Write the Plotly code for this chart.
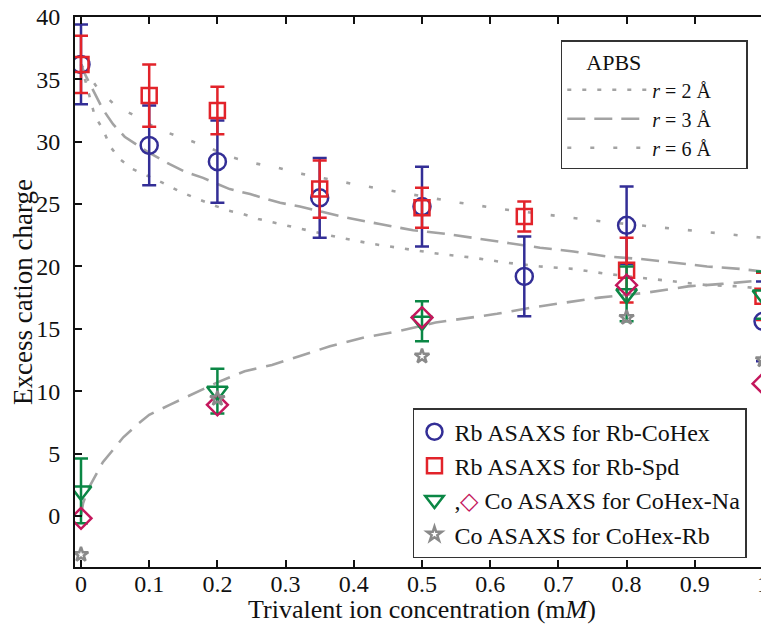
import plotly.graph_objects as go

# ---------------- data ----------------
x_rb = [0, 0.1, 0.2, 0.35, 0.5, 0.65, 0.8, 1.0]
y_rb_cohex = [36.2, 29.7, 28.4, 25.5, 24.8, 19.2, 23.3, 15.6]
err_rb_cohex = [3.2, 3.2, 3.3, 3.2, 3.2, 3.2, 3.1, 3.2]
y_rb_spd = [36.2, 33.7, 32.5, 26.2, 24.7, 24.0, 19.7, 17.6]
err_rb_spd = [2.3, 2.5, 1.9, 2.3, 1.6, 1.2, 2.6, 1.9]

x_co = [0, 0.2, 0.5, 0.8, 1.0]
y_co_na_tri = [2.0, 10.0, 15.6, 17.8, 17.7]
err_co_na_tri = [2.6, 1.8, 1.6, 2.2, 1.9]
y_co_na_dia = [-0.2, 8.9, 15.9, 18.5, 10.6]
y_co_rb = [-3.1, 9.4, 12.8, 15.9, 12.5]

# APBS curves
x_r6 = [0, 0.023, 0.05, 0.082, 0.113, 0.15, 0.185, 0.218, 0.252, 0.289, 0.326,
        0.4, 0.472, 0.544, 0.617, 0.69, 0.764, 0.837, 0.91, 1.0]
y_r6 = [36.2, 34.4, 32.9, 32.0, 31.0, 30.3, 29.6, 28.8, 28.3, 27.9, 27.4,
        26.6, 25.9, 25.2, 24.6, 24.1, 23.6, 23.2, 22.8, 22.3]
x_r3 = [0, 0.006, 0.032, 0.047, 0.064, 0.097, 0.13, 0.152, 0.179, 0.218, 0.248,
        0.292, 0.321, 0.39, 0.438, 0.487, 0.537, 0.585, 0.633, 0.673, 0.722,
        0.771, 0.82, 0.868, 0.918, 0.966, 1.0]
y_r3 = [36.2, 35.4, 32.6, 31.4, 30.4, 29.2, 28.2, 27.6, 27.1, 26.2, 25.8,
        25.1, 24.8, 23.9, 23.4, 22.9, 22.6, 22.2, 21.8, 21.5, 21.2,
        20.8, 20.6, 20.3, 20.0, 19.8, 19.6]
x_r2 = [0, 0.013, 0.02, 0.032, 0.043, 0.057, 0.076, 0.12, 0.145, 0.167, 0.214,
        0.238, 0.26, 0.284, 0.309, 0.38, 0.428, 0.478, 0.526, 0.575, 0.624,
        0.673, 0.722, 0.771, 0.82, 0.868, 0.918, 0.966, 1.0]
y_r2 = [36.2, 33.6, 32.1, 31.0, 29.6, 28.6, 27.8, 26.7, 26.0, 25.5, 24.5,
        24.2, 23.8, 23.5, 23.2, 22.3, 21.8, 21.4, 21.0, 20.7, 20.3,
        20.0, 19.8, 19.4, 19.1, 18.8, 18.5, 18.4, 18.2]
x_rise = [0, 0.003, 0.01, 0.032, 0.047, 0.062, 0.082, 0.1, 0.13, 0.17, 0.2,
          0.24, 0.28, 0.32, 0.365, 0.415, 0.465, 0.52, 0.56, 0.61, 0.66,
          0.71, 0.76, 0.83, 0.89, 0.94, 1.0]
y_rise = [0.0, 1.0, 2.1, 4.3, 5.3, 6.3, 7.3, 8.1, 8.9, 9.9, 10.7,
          11.6, 12.1, 12.8, 13.6, 14.3, 14.8, 15.5, 15.8, 16.2, 16.7,
          17.1, 17.5, 17.9, 18.4, 18.6, 18.9]

x_ticks = [0, 0.1, 0.2, 0.3, 0.4, 0.5, 0.6, 0.7, 0.8, 0.9, 1.0]
x_ticktext = ["0", "0.1", "0.2", "0.3", "0.4", "0.5", "0.6", "0.7", "0.8", "0.9", "1"]
y_ticks = [0, 5, 10, 15, 20, 25, 30, 35, 40]

# ---------------- style ----------------
FONT = "Liberation Serif"
GREY = "#A3A3A3"
BLUE = "#332E96"
RED = "#E2232A"
GREEN = "#0B8745"
CRIMSON = "#C4175C"
STARG = "#8A8A8A"
FS = 24
PAD = "&nbsp;" * 6

fig = go.Figure()

fig.add_trace(go.Scatter(x=x_r2, y=y_r2, mode="lines", name="<i>r</i> = 2 Å" + PAD,
                         line=dict(color=GREY, width=2.6, dash="4px,11px"),
                         legend="legend"))
fig.add_trace(go.Scatter(x=x_r3, y=y_r3, mode="lines", name="<i>r</i> = 3 Å" + PAD,
                         line=dict(color=GREY, width=2.6, dash="18px,9px"),
                         legend="legend"))
fig.add_trace(go.Scatter(x=x_r6, y=y_r6, mode="lines", name="<i>r</i> = 6 Å" + PAD,
                         line=dict(color=GREY, width=2.6, dash="4px,19px"),
                         legend="legend"))
fig.add_trace(go.Scatter(x=x_rise, y=y_rise, mode="lines", showlegend=False,
                         line=dict(color=GREY, width=2.6, dash="18px,10px")))

fig.add_trace(go.Scatter(
    x=x_rb, y=y_rb_cohex, mode="markers", name="Rb ASAXS for Rb-CoHex",
    marker=dict(symbol="circle-open", size=17, color=BLUE, line=dict(width=2.5, color=BLUE)),
    error_y=dict(type="data", array=err_rb_cohex, color=BLUE, thickness=2.5, width=7),
    legend="legend2"))
fig.add_trace(go.Scatter(
    x=x_rb, y=y_rb_spd, mode="markers", name="Rb ASAXS for Rb-Spd",
    marker=dict(symbol="square-open", size=15, color=RED, line=dict(width=2.5, color=RED)),
    error_y=dict(type="data", array=err_rb_spd, color=RED, thickness=2.5, width=7),
    legend="legend2"))
fig.add_trace(go.Scatter(
    x=x_co, y=y_co_na_tri, mode="markers",
    name=",<span style='color:%s'>◇</span> Co ASAXS for CoHex-Na" % CRIMSON,
    marker=dict(symbol="triangle-down-open", size=18, color=GREEN, line=dict(width=2.5, color=GREEN)),
    error_y=dict(type="data", array=err_co_na_tri, color=GREEN, thickness=2.5, width=7),
    legend="legend2"))
fig.add_trace(go.Scatter(
    x=x_co, y=y_co_na_dia, mode="markers", showlegend=False,
    marker=dict(symbol="diamond-open", size=16, color=CRIMSON, line=dict(width=2.5, color=CRIMSON))))
fig.add_trace(go.Scatter(
    x=x_co, y=y_co_rb, mode="markers", name="Co ASAXS for CoHex-Rb",
    marker=dict(symbol="star-open", size=11, color=STARG, line=dict(width=2.5, color=STARG)),
    legend="legend2"))

axis_common = dict(
    showgrid=False, zeroline=False, showline=True, linecolor="#111111", linewidth=2,
    mirror="ticks", ticks="inside", ticklen=7, tickwidth=1.5, tickcolor="#111111",
    tickfont=dict(family=FONT, size=FS, color="#111111"), automargin=False,
    ticklabeloverflow="allow",
)

# page has an 8px body margin, so the figure is 8px smaller than the window
fig.update_layout(
    width=761, height=616,
    margin=dict(l=67, r=0, t=9, b=57),
    paper_bgcolor="white", plot_bgcolor="white",
    font=dict(family=FONT, size=FS, color="#111111"),
    xaxis=dict(range=[-0.0088, 1.0088], tickvals=x_ticks, ticktext=x_ticktext,
               ticklabelstandoff=-6,
               title=dict(text="Trivalent ion concentration (m<i>M</i>)",
                          font=dict(family=FONT, size=26), standoff=8),
               **axis_common),
    yaxis=dict(range=[-4.1, 40], tickvals=y_ticks, ticklabelstandoff=8,
               title=dict(text="Excess cation charge", font=dict(family=FONT, size=27),
                          standoff=8),
               **axis_common),
    legend=dict(x=0.700, y=0.958, xanchor="left", yanchor="top",
                title=dict(text="&nbsp;&nbsp;&nbsp;&nbsp;APBS", font=dict(family=FONT, size=22)),
                bgcolor="white", bordercolor="#333333", borderwidth=1.5,
                font=dict(family=FONT, size=20), itemwidth=80, tracegroupgap=0),
    legend2=dict(x=0.487, y=0.289, xanchor="left", yanchor="top",
                 bgcolor="white", bordercolor="#333333", borderwidth=1.5,
                 font=dict(family=FONT, size=FS), itemwidth=30, tracegroupgap=0),
)

fig.write_html("out.html")
